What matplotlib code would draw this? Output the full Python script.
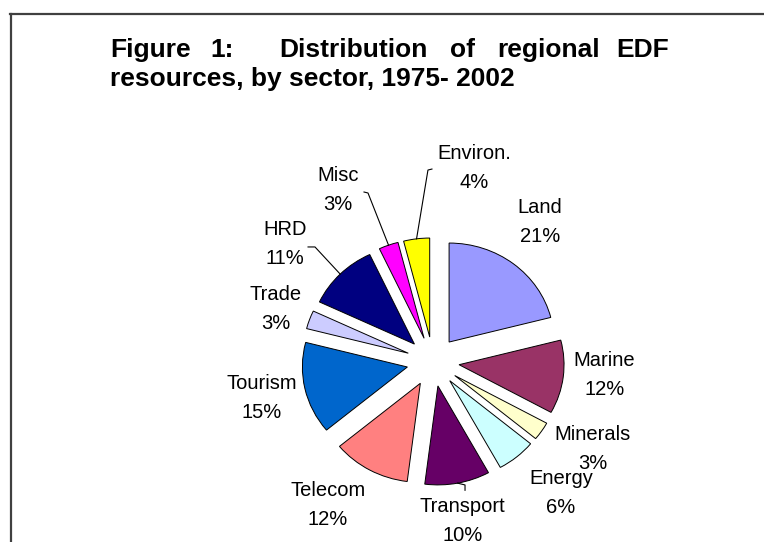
import numpy as np
import matplotlib
matplotlib.use('Agg')
import matplotlib.pyplot as plt
from matplotlib.lines import Line2D

# data
sectors = ["Land", "Marine", "Minerals", "Energy", "Transport", "Telecom",
           "Tourism", "Trade", "HRD", "Misc", "Environ."]
shares = [21, 12, 3, 6, 10, 12, 15, 3, 11, 3, 4]
colors = ["#9999FF", "#993366", "#FFFFCC", "#CCFFFF", "#660066", "#FF8080",
          "#0066CC", "#CCCCFF", "#000080", "#FF00FF", "#FFFF00"]

# label centres in pie units (radius = 1)
label_pos = [(1.02, 1.41), (1.63, -0.135), (1.52, -0.88), (1.22, -1.33),
             (0.28, -1.61), (-1.0, -1.45), (-1.63, -0.37), (-1.50, 0.53),
             (-1.41, 1.19), (-0.905, 1.73), (0.39, 1.955)]
# leader lines: sector -> (start, elbow) in pie units
leaders = {"Misc": ((-0.657, 1.713), (-0.619, 1.703)),
           "Environ.": ((-0.01, 1.945), (-0.048, 1.935)),
           "HRD": ((-1.19, 1.158), (-1.124, 1.158)),
           "Transport": ((0.305, -1.30), (0.305, -1.246))}

W, H = 764, 542
CX, CY = 433, 361.6      # pie centre, px
SX, SY = 105, 99         # px per unit

plt.rcParams['font.family'] = ['Liberation Sans', 'DejaVu Sans']
fig = plt.figure(figsize=(W / 100, H / 100), dpi=100)
ax = fig.add_axes([0, 0, 1, 1])

wedges, _ = ax.pie(shares, colors=colors, startangle=90, counterclock=False,
                   explode=[0.25] * len(shares),
                   wedgeprops=dict(edgecolor='black', linewidth=0.7))
ax.set_aspect('auto')
ax.set_xlim(-CX / SX, (W - CX) / SX)
ax.set_ylim((CY - H) / SY, CY / SY)
ax.axis('off')

for name, val, (lx, ly) in zip(sectors, shares, label_pos):
    ax.text(lx, ly, f"{name}\n{val}%", ha='center', va='center',
            fontsize=14.5, linespacing=1.65, color='black')

for w, name in zip(wedges, sectors):
    if name not in leaders:
        continue
    mid = np.deg2rad((w.theta1 + w.theta2) / 2)
    ax_, ay_ = w.center[0] + w.r * np.cos(mid), w.center[1] + w.r * np.sin(mid)
    (sx, sy), (ex, ey) = leaders[name]
    ax.plot([sx, ex, ax_], [sy, ey, ay_], color='black', lw=0.8)

# title, justified first line
tfont = dict(fontsize=19, fontweight='bold', va='baseline')
for word, x, ha in [("Figure", 110, 'left'), ("1:", 210, 'left'),
                    ("Distribution", 279, 'left'), ("of", 450, 'left'),
                    ("regional", 497, 'left'), ("EDF", 669, 'right')]:
    fig.text(x / W, 1 - 57 / H, word, ha=ha, **tfont)
fig.text(110 / W, 1 - 86 / H, "resources, by sector, 1975- 2002", ha='left', **tfont)

# frame
fig.add_artist(Line2D([10.5 / W, 10.5 / W], [0, 1 - 14 / H], color='#404040', lw=1.6))
fig.add_artist(Line2D([10 / W, 1], [1 - 14 / H, 1 - 14 / H], color='#404040', lw=1.6))

fig.savefig("out.png", dpi=100)
